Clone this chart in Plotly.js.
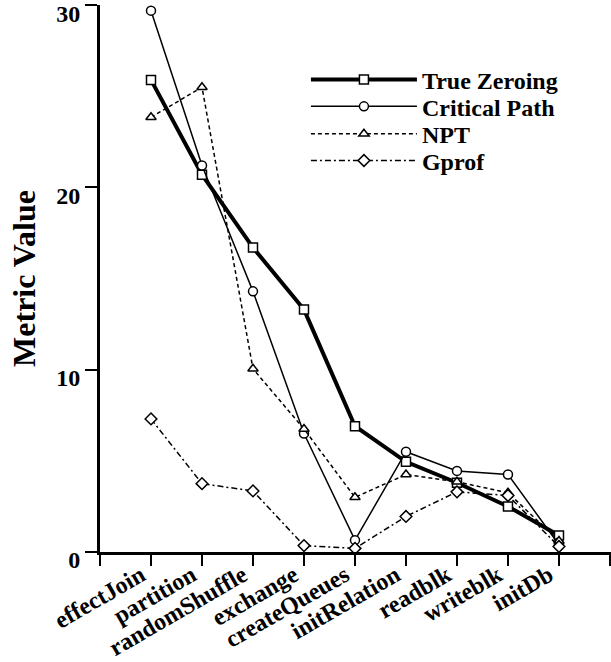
<!DOCTYPE html>
<html>
<head>
<meta charset="utf-8">
<script src="https://cdn.plot.ly/plotly-3.0.1.min.js"></script>
<style>html,body{margin:0;padding:0;background:#fff;}#chart{width:611px;height:662px;}</style>
</head>
<body>
<div id="chart"></div>
<script>
const categories = ['effectJoin','partition','randomShuffle','exchange','createQueues','initRelation','readblk','writeblk','initDb'];
const trueZeroing = [25.9, 20.7, 16.7, 13.3, 6.9, 4.95, 3.8, 2.5, 0.9];
const criticalPath = [29.7, 21.2, 14.3, 6.5, 0.65, 5.5, 4.45, 4.25, 0.4];
const npt = [23.85, 25.5, 10.05, 6.75, 3.0, 4.25, 3.85, 3.25, 0.6];
const gprof = [7.3, 3.75, 3.35, 0.35, 0.2, 1.95, 3.3, 3.1, 0.3];
const yTicks = [0, 10, 20, 30];

const xIdx = categories.map((c, i) => i + 1);
const tickVals = [0].concat(xIdx, [categories.length + 1]);
const tickText = [''].concat(categories, ['']);

const FONT = 'Liberation Serif, Times New Roman, serif';

function series(name, y, sym, lw, dash, leg) {
  return {
    type: 'scatter', mode: 'lines+markers', name: name, legend: leg,
    x: xIdx, y: y,
    line: {color: '#000', width: lw, dash: dash},
    marker: {symbol: sym, size: 9, color: '#fff', line: {color: '#000', width: 1.5}}
  };
}

const data = [
  series('True Zeroing', trueZeroing, 'square', 4, 'solid', 'legend'),
  series('Critical Path', criticalPath, 'circle', 1.5, 'solid', 'legend2'),
  series('NPT', npt, 'triangle-up', 1.5, '4px,3px', 'legend3'),
  series('Gprof', gprof, 'diamond', 1.5, '6px,3px,2px,3px', 'legend4')
];

function leg(y) {
  return {
    x: 0.403, y: y, xanchor: 'left', yanchor: 'middle',
    bgcolor: 'rgba(0,0,0,0)', borderwidth: 0,
    font: {family: FONT, size: 24, weight: 700, color: '#000'},
    itemwidth: 106
  };
}

const layout = {
  width: 611, height: 662,
  margin: {l: 100, r: 0, t: 5, b: 110},
  paper_bgcolor: '#fff', plot_bgcolor: '#fff',
  font: {family: FONT, color: '#000', size: 22, weight: 700},
  showlegend: true,
  legend: leg(0.863),
  legend2: leg(0.814),
  legend3: leg(0.764),
  legend4: leg(0.715),
  xaxis: {
    range: [0, categories.length + 1.02],
    tickmode: 'array', tickvals: tickVals, ticktext: tickText,
    tickangle: -30, ticklabelshift: -10, ticklabelstandoff: -14,
    ticks: 'outside', ticklen: 11, tickwidth: 2, tickcolor: '#000',
    showline: true, linewidth: 3, linecolor: '#000',
    showgrid: false, zeroline: false,
    tickfont: {family: FONT, size: 24, weight: 700, color: '#000'}
  },
  yaxis: {
    range: [0, 30.01],
    tickmode: 'array', tickvals: yTicks,
    ticklabelshift: 8,
    ticks: 'outside', ticklen: 12, tickwidth: 2, tickcolor: '#000',
    showline: true, linewidth: 3, linecolor: '#000',
    showgrid: false, zeroline: false,
    tickfont: {family: FONT, size: 24, weight: 700, color: '#000'},
    title: {text: 'Metric Value', standoff: 12, font: {family: FONT, size: 32, weight: 700, color: '#000'}}
  }
};

Plotly.newPlot('chart', data, layout, {displayModeBar: false, staticPlot: true});
</script>
</body>
</html>
